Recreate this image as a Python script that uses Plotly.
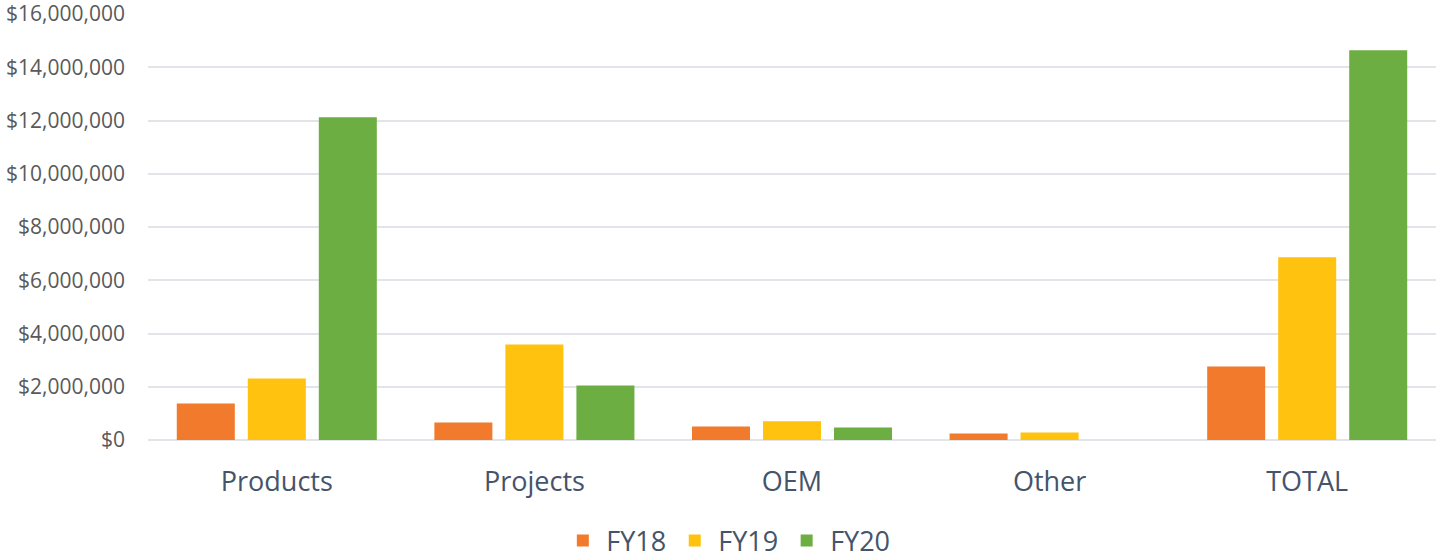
import plotly.graph_objects as go

categories = ["Products", "Projects", "OEM", "Other", "TOTAL"]
fy18 = [1370000, 660000, 510000, 240000, 2760000]
fy19 = [2310000, 3590000, 700000, 280000, 6860000]
fy20 = [12120000, 2050000, 470000, 0, 14640000]
series_names = ["FY18", "FY19", "FY20"]
colors = ["#F27A2C", "#FFC20E", "#6DAE43"]
tick_vals = [0, 2000000, 4000000, 6000000, 8000000, 10000000, 12000000, 14000000, 16000000]
tick_text = ["$0", "$2,000,000", "$4,000,000", "$6,000,000", "$8,000,000",
             "$10,000,000", "$12,000,000", "$14,000,000", "$16,000,000"]

SHIFT = 20  # hidden strip above the visible window

fig = go.Figure()
for name, vals, col in zip(series_names, [fy18, fy19, fy20], colors):
    fig.add_trace(go.Bar(x=categories, y=vals, name=name,
                         marker=dict(color=col, line=dict(width=0))))

fig.update_layout(
    width=1436, height=558 + SHIFT,
    margin=dict(l=148, r=0, t=14 + SHIFT, b=118),
    plot_bgcolor="white", paper_bgcolor="white",
    barmode="group", bargap=0.173, bargroupgap=0.183,
    font=dict(family="Open Sans, sans-serif"),
    xaxis=dict(tickfont=dict(size=27, color="#44546A"), showline=False,
               ticks="", showgrid=False, ticklabelstandoff=23),
    yaxis=dict(range=[0, 16000000], tickvals=tick_vals, ticktext=tick_text,
               tickfont=dict(size=21, color="#595959"), showgrid=True,
               gridcolor="#E1E5EA", gridwidth=2, zeroline=True,
               zerolinecolor="#E1E5EA", zerolinewidth=2, ticks="",
               ticklabelstandoff=22, showline=False),
    legend=dict(orientation="h", xref="container", yref="container",
                x=0.5065, xanchor="center", y=17 / (558 + SHIFT), yanchor="middle",
                font=dict(size=27, color="#44546A"), itemwidth=37),
    showlegend=True,
)
fig.update_xaxes(automargin=False)
fig.update_yaxes(automargin=False)
fig.write_html("out.html", config={"displayModeBar": False})

with open("out.html", "r", encoding="utf-8") as f:
    html = f.read()
html = html.replace("<body>", '<body style="margin:-%dpx 0 0 0;padding:0;overflow:hidden;">' % SHIFT, 1)
with open("out.html", "w", encoding="utf-8") as f:
    f.write(html)
